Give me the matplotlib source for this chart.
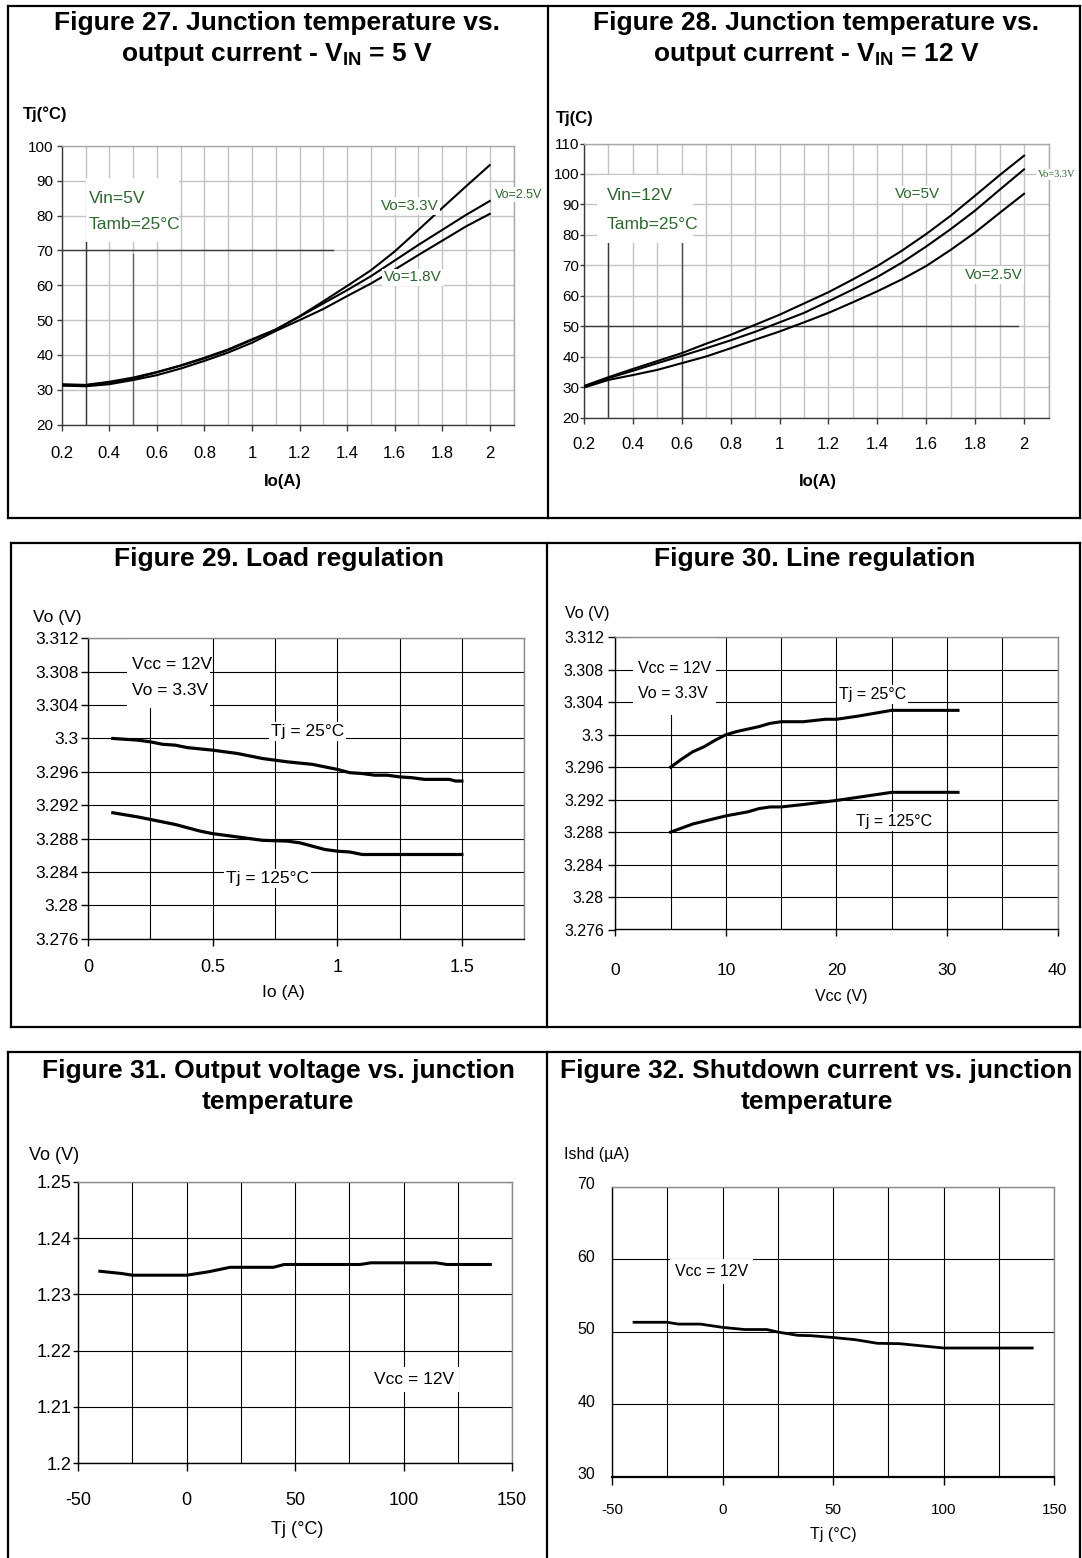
import matplotlib
matplotlib.use("Agg")
import matplotlib.pyplot as plt
from matplotlib import font_manager as fm
from matplotlib.patches import Rectangle
from matplotlib.lines import Line2D
import matplotlib.transforms as mtransforms

# ------------------------------------------------------------------ data
# Figure 27 : Tj vs Io, Vin = 5 V
IO_A = [0.2, 0.3, 0.4, 0.5, 0.6, 0.7, 0.8, 0.9, 1.0, 1.1,
        1.2, 1.3, 1.4, 1.5, 1.6, 1.7, 1.8, 1.9, 2.0]
F27_VO33 = [31.6, 31.4, 32.3, 33.5, 35.1, 37.0, 39.2, 41.6, 44.5, 47.3,
            51.1, 55.4, 59.8, 64.3, 69.7, 75.9, 82.2, 88.4, 94.5]
F27_VO25 = [31.3, 31.3, 32.1, 33.2, 35.0, 36.9, 39.0, 41.4, 44.3, 47.3,
            51.0, 54.8, 58.6, 62.6, 67.1, 71.6, 75.9, 80.2, 84.2]
F27_VO18 = [31.2, 31.0, 31.6, 32.8, 34.2, 36.1, 38.3, 40.7, 43.5, 46.9,
            50.0, 53.2, 56.9, 60.5, 64.5, 68.7, 72.8, 76.9, 80.5]
# Figure 28 : Tj vs Io, Vin = 12 V
F28_VO5 = [30.4, 33.3, 36.0, 38.6, 41.2, 44.3, 47.2, 50.5, 53.8, 57.5,
           61.2, 65.4, 69.8, 74.8, 80.3, 86.3, 92.9, 99.6, 106.0]
F28_VO33 = [30.2, 33.0, 35.4, 37.9, 40.3, 42.8, 45.4, 48.2, 51.3, 54.4,
            58.2, 62.1, 66.2, 70.9, 76.2, 81.9, 88.0, 94.8, 101.5]
F28_VO25 = [29.9, 32.4, 34.0, 35.7, 37.9, 40.1, 42.8, 45.6, 48.3, 51.3,
            54.4, 57.9, 61.5, 65.4, 69.8, 75.1, 80.8, 87.2, 93.5]
# Figure 29 : load regulation
F29_IO_25 = [0.1, 0.2, 0.25, 0.3, 0.35, 0.4, 0.5, 0.6, 0.7, 0.75, 0.8, 0.9, 0.95,
             1.0, 1.05, 1.1, 1.15, 1.2, 1.25, 1.3, 1.35, 1.4, 1.45, 1.475, 1.5]
F29_VO_25 = [3.3000, 3.2998, 3.2996, 3.2993, 3.2992, 3.2989, 3.2986, 3.2982, 3.2976,
             3.2974, 3.2972, 3.2969, 3.2966, 3.2963, 3.2959, 3.2958, 3.2956, 3.2956,
             3.2954, 3.2953, 3.2951, 3.2951, 3.2951, 3.2949, 3.2949]
F29_IO_125 = [0.1, 0.2, 0.3, 0.35, 0.4, 0.45, 0.5, 0.6, 0.65, 0.7, 0.8, 0.85,
              0.9, 0.95, 1.0, 1.05, 1.1, 1.2, 1.5]
F29_VO_125 = [3.2911, 3.2906, 3.2900, 3.2897, 3.2893, 3.2889, 3.2886, 3.2882, 3.2880,
              3.2878, 3.2877, 3.2875, 3.2871, 3.2867, 3.2865, 3.2864, 3.2861, 3.2861,
              3.2861]
# Figure 30 : line regulation
F30_VCC_25 = [5, 6, 7, 8, 9, 10, 11, 12, 13, 14, 15, 17, 19, 20, 22, 25, 31]
F30_VO_25 = [3.2960, 3.2970, 3.2979, 3.2985, 3.2993, 3.3000, 3.3004, 3.3007, 3.3010,
             3.3014, 3.3016, 3.3016, 3.3019, 3.3019, 3.3023, 3.3030, 3.3030]
F30_VCC_125 = [5, 7, 10, 12, 13, 14, 15, 17, 20, 22, 25, 31]
F30_VO_125 = [3.2880, 3.2890, 3.2900, 3.2905, 3.2909, 3.2911, 3.2911, 3.2914,
              3.2919, 3.2923, 3.2929, 3.2929]
# Figure 31 : output voltage vs Tj
F31_TJ = [-40, -30, -25, 0, 10, 20, 40, 45, 80, 85, 115, 120, 140]
F31_VO = [1.2341, 1.2337, 1.2334, 1.2334, 1.2340, 1.2348, 1.2348, 1.2353, 1.2353,
          1.2356, 1.2356, 1.2353, 1.2353]
# Figure 32 : shutdown current vs Tj
F32_TJ = [-40, -25, -20, -10, 0, 10, 20, 25, 34, 40, 50, 60, 70, 80, 100, 140]
F32_ISHD = [51.3, 51.3, 51.05, 51.05, 50.6, 50.3, 50.3, 49.95, 49.5, 49.45, 49.2,
            48.9, 48.4, 48.35, 47.75, 47.75]

# ticks
F27_XTICKS = [0.2, 0.4, 0.6, 0.8, 1.0, 1.2, 1.4, 1.6, 1.8, 2.0]
F27_XTICKLABELS = ['0.2', '0.4', '0.6', '0.8', '1', '1.2', '1.4', '1.6', '1.8', '2']
F27_XGRID = [0.3, 0.5, 0.7, 0.9, 1.1, 1.3, 1.5, 1.7, 1.9, 2.1]
F27_YTICKS = [20, 30, 40, 50, 60, 70, 80, 90, 100]
F27_YTICKLABELS = ['20', '30', '40', '50', '60', '70', '80', '90', '100']
F28_YTICKS = [20, 30, 40, 50, 60, 70, 80, 90, 100, 110]
F28_YTICKLABELS = ['20', '30', '40', '50', '60', '70', '80', '90', '100', '110']
F29_XTICKS = [0, 0.5, 1.0, 1.5]
F29_XTICKLABELS = ['0', '0.5', '1', '1.5']
F29_XGRID = [0.25, 0.75, 1.25, 1.75]
VO_TICKS = [3.276, 3.280, 3.284, 3.288, 3.292, 3.296, 3.300, 3.304, 3.308, 3.312]
VO_TICKLABELS = ['3.276', '3.28', '3.284', '3.288', '3.292', '3.296', '3.3',
                 '3.304', '3.308', '3.312']
F30_XTICKS = [0, 10, 20, 30, 40]
F30_XTICKLABELS = ['0', '10', '20', '30', '40']
F30_XGRID = [5, 15, 25, 35]
TJ_TICKS = [-50, 0, 50, 100, 150]
TJ_TICKLABELS = ['-50', '0', '50', '100', '150']
TJ_GRID = [-25, 25, 75, 125]
F31_YTICKS = [1.20, 1.21, 1.22, 1.23, 1.24, 1.25]
F31_YTICKLABELS = ['1.2', '1.21', '1.22', '1.23', '1.24', '1.25']
F32_YTICKS = [30, 40, 50, 60, 70]
F32_YTICKLABELS = ['30', '40', '50', '60', '70']

# ------------------------------------------------------------------ fonts
def has_font(name):
    try:
        fm.findfont(fm.FontProperties(family=name), fallback_to_default=False)
        return True
    except Exception:
        return False

SANS = 'Liberation Sans' if has_font('Liberation Sans') else 'DejaVu Sans'
if has_font('Liberation Sans Narrow'):
    NARROW, NS = 'Liberation Sans Narrow', 1.15
else:
    NARROW, NS = SANS, 1.0
SERIF = 'Liberation Serif' if has_font('Liberation Serif') else 'DejaVu Serif'

plt.rcParams['font.family'] = [SANS, 'DejaVu Sans']
plt.rcParams['mathtext.fontset'] = 'custom'
plt.rcParams['mathtext.rm'] = SANS
plt.rcParams['mathtext.bf'] = SANS + ':bold'

GREEN = '#2f6630'

# ------------------------------------------------------------------ figure
W, H, DPI = 1082, 1558, 100
fig = plt.figure(figsize=(W / DPI, H / DPI), dpi=DPI)
fig.patch.set_facecolor('white')


def fx(x):
    return x / W


def fy(y):
    return 1.0 - y / H


def px_axes(l, t, r, b):
    return fig.add_axes([fx(l), fy(b), (r - l) / W, (b - t) / H])


def seg(x0, y0, x1, y1, lw=1.6):
    fig.add_artist(Line2D([fx(x0), fx(x1)], [fy(y0), fy(y1)],
                          transform=fig.transFigure, color='black', lw=lw,
                          solid_capstyle='projecting'))


# panel frames
seg(7.6, 5.7, 1080, 5.7); seg(7.6, 517.7, 1080, 517.7)
seg(7.6, 5.7, 7.6, 517.7); seg(547.6, 5.7, 547.6, 517.7); seg(1080, 5.7, 1080, 517.7)
seg(11, 542.7, 1080, 542.7); seg(11, 1026.7, 1080, 1026.7)
seg(11, 542.7, 11, 1026.7); seg(547, 542.7, 547, 1026.7); seg(1080, 542.7, 1080, 1026.7)
seg(7.6, 1051.7, 1080, 1051.7)
seg(7.6, 1051.7, 7.6, 1560); seg(547, 1051.7, 547, 1560); seg(1080, 1051.7, 1080, 1560)

# titles
renderer = fig.canvas.get_renderer()
probe = fig.text(0, 0, 'Figure 31. Output voltage vs. junction', fontsize=15,
                 weight='bold', family=SANS)
TFS = 15 * 473.0 / probe.get_window_extent(renderer).width
probe.remove()
CAP = 0.716 * TFS * DPI / 72.0


def title(x, y, s):
    fig.text(fx(x), fy(y + CAP / 2), s, fontsize=TFS, weight='bold', family=SANS,
             ha='center', va='baseline')


title(277, 20.7, 'Figure 27. Junction temperature vs.')
title(277, 51.7, r'output current - $\mathbf{V_{IN}}$ = 5 V')
title(816.5, 20.7, 'Figure 28. Junction temperature vs.')
title(816.5, 51.7, r'output current - $\mathbf{V_{IN}}$ = 12 V')
title(279, 556.7, 'Figure 29. Load regulation')
title(815, 556.7, 'Figure 30. Line regulation')
title(278, 1068.3, 'Figure 31. Output voltage vs. junction')
title(277.5, 1099.3, 'temperature')
title(815.7, 1068.3, 'Figure 32. Shutdown current vs. junction')
title(816.5, 1099.3, 'temperature')


def style(ax, xlim, ylim, xt, xtl, yt, ytl, xg, yg, gcolor, glw, axis_color,
          edge_color, xlen, ylen, xpad, ypad, xfs, yfs, xfam, yfam, bottom_lw=1.0):
    ax.set_xlim(*xlim)
    ax.set_ylim(*ylim)
    ax.set_xticks(xt, labels=xtl, fontsize=xfs, family=xfam)
    ax.set_yticks(yt, labels=ytl, fontsize=yfs, family=yfam)
    ax.set_xticks(xg, minor=True)
    ax.set_yticks(yg, minor=True)
    ax.set_axisbelow(True)
    ax.grid(which='both', color=gcolor, lw=glw)
    ax.tick_params(which='minor', length=0)
    ax.tick_params(axis='x', which='major', length=xlen, width=1, pad=xpad,
                   color=axis_color, direction='out')
    ax.tick_params(axis='y', which='major', length=ylen, width=1, pad=ypad,
                   color=axis_color, direction='out')
    for s in ('left', 'bottom'):
        ax.spines[s].set_color(axis_color)
        ax.spines[s].set_linewidth(1.0)
    ax.spines['bottom'].set_linewidth(bottom_lw)
    for s in ('top', 'right'):
        ax.spines[s].set_color(edge_color)
        ax.spines[s].set_linewidth(1.0)


def labels(ax, xl, xpos, yl, ypos, fs, fam, weight='normal'):
    ax.set_xlabel(xl, fontsize=fs, family=fam, weight=weight, ha='center', va='center')
    ax.xaxis.set_label_coords(fx(xpos[0]), fy(xpos[1]), transform=fig.transFigure)
    ax.set_ylabel(yl, rotation=0, fontsize=fs, family=fam, weight=weight,
                  ha='center', va='center')
    ax.yaxis.set_label_coords(fx(ypos[0]), fy(ypos[1]), transform=fig.transFigure)


WB = dict(boxstyle='square,pad=0.12', facecolor='white', edgecolor='none')

# ------------------------------------------------------------ Figure 27
ax = px_axes(61.8, 146, 513.5, 424.6)
style(ax, (0.2, 2.1), (20, 100), F27_XTICKS, F27_XTICKLABELS, F27_YTICKS,
      F27_YTICKLABELS, F27_XGRID, [], '#c2c2c2', 1.0, '#3a3a3a', '#a8a8a8',
      4.1, 3.6, 11.5, 2.5, 12 * NS, 11 * NS, NARROW, NARROW)
ax.axhline(70, 0, (1.34 - 0.2) / 1.9, color='#3a3a3a', lw=1.0, zorder=1)
ax.axvline(0.3, 0, (72.5 - 20) / 80, color='#3a3a3a', lw=1.0, zorder=1)
ax.axvline(0.5, 0, (69 - 20) / 80, color='#666666', lw=1.0, zorder=1)
ax.add_patch(Rectangle((0.30, 72.5), 0.395, 18.2, facecolor='white',
                       edgecolor='none', zorder=1.5))
for ys in (F27_VO33, F27_VO25, F27_VO18):
    ax.plot(IO_A, ys, color='black', lw=1.5, zorder=3)
ax.text(0.312, 85.4, 'Vin=5V', color=GREEN, fontsize=12.5 * NS, family=NARROW,
        ha='left', va='center_baseline', zorder=4)
ax.text(0.312, 78.0, 'Tamb=25°C', color=GREEN, fontsize=12.5 * NS, family=NARROW,
        ha='left', va='center_baseline', zorder=4)
ax.text(1.541, 83.2, 'Vo=3.3V', color=GREEN, fontsize=11 * NS, family=NARROW,
        ha='left', va='center_baseline', zorder=4, bbox=WB)
ax.text(2.021, 86.4, 'Vo=2.5V', color=GREEN, fontsize=9 * NS, family=NARROW,
        ha='left', va='center_baseline', zorder=4, bbox=WB, clip_on=False)
ax.text(1.556, 62.7, 'Vo=1.8V', color=GREEN, fontsize=11 * NS, family=NARROW,
        ha='left', va='center_baseline', zorder=4, bbox=WB)
labels(ax, 'Io(A)', (282.5, 481.7), 'Tj(°C)', (45, 114.5), 12 * NS, NARROW, 'bold')

# ------------------------------------------------------------ Figure 28
ax = px_axes(584, 143.5, 1048.5, 417.7)
style(ax, (0.2, 2.1), (20, 110), F27_XTICKS, F27_XTICKLABELS, F28_YTICKS,
      F28_YTICKLABELS, F27_XGRID, [], '#c2c2c2', 1.0, '#3a3a3a', '#a8a8a8',
      4.1, 3.0, 10.0, 0.5, 12 * NS, 11 * NS, NARROW, NARROW)
ax.axhline(50, 0, (1.975 - 0.2) / 1.9, color='#3a3a3a', lw=1.0, zorder=1)
ax.axvline(0.3, 0, (77.2 - 20) / 90, color='#3a3a3a', lw=1.0, zorder=1)
ax.axvline(0.6, 0, (77.2 - 20) / 90, color='#4a4a4a', lw=1.0, zorder=1)
ax.add_patch(Rectangle((0.252, 77.2), 0.395, 22.3, facecolor='white',
                       edgecolor='none', zorder=1.5))
for ys in (F28_VO5, F28_VO33, F28_VO25):
    ax.plot(IO_A, ys, color='black', lw=1.5, zorder=3)
ax.text(0.293, 93.3, 'Vin=12V', color=GREEN, fontsize=12.5 * NS, family=NARROW,
        ha='left', va='center_baseline', zorder=4)
ax.text(0.293, 83.8, 'Tamb=25°C', color=GREEN, fontsize=12.5 * NS, family=NARROW,
        ha='left', va='center_baseline', zorder=4)
ax.text(1.471, 93.8, 'Vo=5V', color=GREEN, fontsize=11 * NS, family=NARROW,
        ha='left', va='center_baseline', zorder=4, bbox=WB)
ax.text(2.055, 100.2, 'Vo=3.3V', color=GREEN, fontsize=7.5, family=SERIF,
        ha='left', va='center_baseline', zorder=4, bbox=WB, clip_on=False)
ax.text(1.758, 67.4, 'Vo=2.5V', color=GREEN, fontsize=11 * NS, family=NARROW,
        ha='left', va='center_baseline', zorder=4, bbox=WB)
labels(ax, 'Io(A)', (818, 481.7), 'Tj(C)', (574.5, 119), 12 * NS, NARROW, 'bold')

# ------------------------------------------------------------ Figure 29
ax = px_axes(87.9, 638.3, 524.2, 938.8)
style(ax, (0, 1.75), (3.276, 3.312), F29_XTICKS, F29_XTICKLABELS, VO_TICKS,
      VO_TICKLABELS, F29_XGRID, [], '#000000', 0.8, '#000000', '#8a8a8a',
      4.8, 5.2, 10.0, 1.5, 13, 12.5, SANS, SANS)
ax.add_patch(Rectangle((0.157, 3.3036), 0.332, 0.0084, facecolor='white',
                       edgecolor='none', zorder=1.5))
ax.plot(F29_IO_25, F29_VO_25, color='black', lw=2.3, zorder=3)
ax.plot(F29_IO_125, F29_VO_125, color='black', lw=2.3, zorder=3)
ax.text(0.177, 3.3090, 'Vcc = 12V', fontsize=12.5, family=SANS, ha='left',
        va='center_baseline', zorder=4)
ax.text(0.177, 3.3059, 'Vo = 3.3V', fontsize=12.5, family=SANS, ha='left',
        va='center_baseline', zorder=4)
ax.text(0.734, 3.3010, 'Tj = 25°C', fontsize=12.5, family=SANS, ha='left',
        va='center_baseline', zorder=4, bbox=WB)
ax.text(0.554, 3.2834, 'Tj = 125°C', fontsize=12.5, family=SANS, ha='left',
        va='center_baseline', zorder=4, bbox=WB)
labels(ax, 'Io (A)', (283, 992), 'Vo (V)', (57.4, 617.3), 12.5, SANS)

# ------------------------------------------------------------ Figure 30
ax = px_axes(615.4, 637.3, 1057.5, 929.5)
style(ax, (0, 40), (3.276, 3.312), F30_XTICKS, F30_XTICKLABELS, VO_TICKS,
      VO_TICKLABELS, F30_XGRID, [], '#000000', 0.8, '#000000', '#8a8a8a',
      4.8, 5.0, 19.0, 3.2, 12.5, 11.5 * NS, SANS, NARROW)
ax.add_patch(Rectangle((1.59, 3.3024), 7.5, 0.0096, facecolor='white',
                       edgecolor='none', zorder=1.5))
ax.plot(F30_VCC_25, F30_VO_25, color='black', lw=2.2, zorder=3)
ax.plot(F30_VCC_125, F30_VO_125, color='black', lw=2.2, zorder=3)
ax.text(2.09, 3.3084, 'Vcc = 12V', fontsize=11.5 * NS, family=NARROW, ha='left',
        va='center_baseline', zorder=4)
ax.text(2.09, 3.3052, 'Vo = 3.3V', fontsize=11.5 * NS, family=NARROW, ha='left',
        va='center_baseline', zorder=4)
ax.text(20.2, 3.3051, 'Tj = 25°C', fontsize=11.5 * NS, family=NARROW, ha='left',
        va='center_baseline', zorder=4, bbox=WB)
ax.text(21.8, 3.2895, 'Tj = 125°C', fontsize=11.5 * NS, family=NARROW, ha='left',
        va='center_baseline', zorder=4, bbox=WB)
labels(ax, 'Vcc (V)', (841.6, 996), 'Vo (V)', (587.5, 613.3), 11.5 * NS, NARROW)

# ------------------------------------------------------------ Figure 31
ax = px_axes(78.2, 1181.7, 512, 1463.3)
style(ax, (-50, 150), (1.2, 1.25), TJ_TICKS, TJ_TICKLABELS, F31_YTICKS,
      F31_YTICKLABELS, TJ_GRID, [], '#000000', 0.8, '#000000', '#8a8a8a',
      6.0, 3.7, 14.5, 1.3, 13, 13, SANS, SANS)
ax.plot(F31_TJ, F31_VO, color='black', lw=2.2, zorder=3)
ax.text(86.4, 1.2151, 'Vcc = 12V', fontsize=12.5, family=SANS, ha='left',
        va='center_baseline', zorder=4, bbox=dict(boxstyle='square,pad=0.3',
                                                  facecolor='white', edgecolor='none'))
labels(ax, 'Tj (°C)', (297, 1530), 'Vo (V)', (54, 1156), 13, SANS)

# ------------------------------------------------------------ Figure 32
ax = px_axes(611.9, 1186.7, 1054.3, 1476.7)
style(ax, (-50, 150), (30, 70), TJ_TICKS, TJ_TICKLABELS, F32_YTICKS,
      F32_YTICKLABELS, TJ_GRID, [], '#000000', 0.8, '#000000', '#8a8a8a',
      6.0, 0, 13.2, 12, 11, 11.5, SANS, SANS, bottom_lw=1.6)
shift = mtransforms.ScaledTranslation(0, 3.5 / DPI, fig.dpi_scale_trans)
for lab in ax.get_yticklabels():
    lab.set_transform(lab.get_transform() + shift)
ax.plot(F32_TJ, F32_ISHD, color='black', lw=2.0, zorder=3)
ax.text(-21.5, 58.5, 'Vcc = 12V', fontsize=11.5, family=SANS, ha='left',
        va='center_baseline', zorder=4, bbox=dict(boxstyle='square,pad=0.3',
                                                  facecolor='white', edgecolor='none'))
labels(ax, 'Tj (°C)', (833, 1535), 'Ishd (µA)', (597, 1155), 11.5, SANS)

fig.savefig('out.png', dpi=DPI, facecolor='white')
